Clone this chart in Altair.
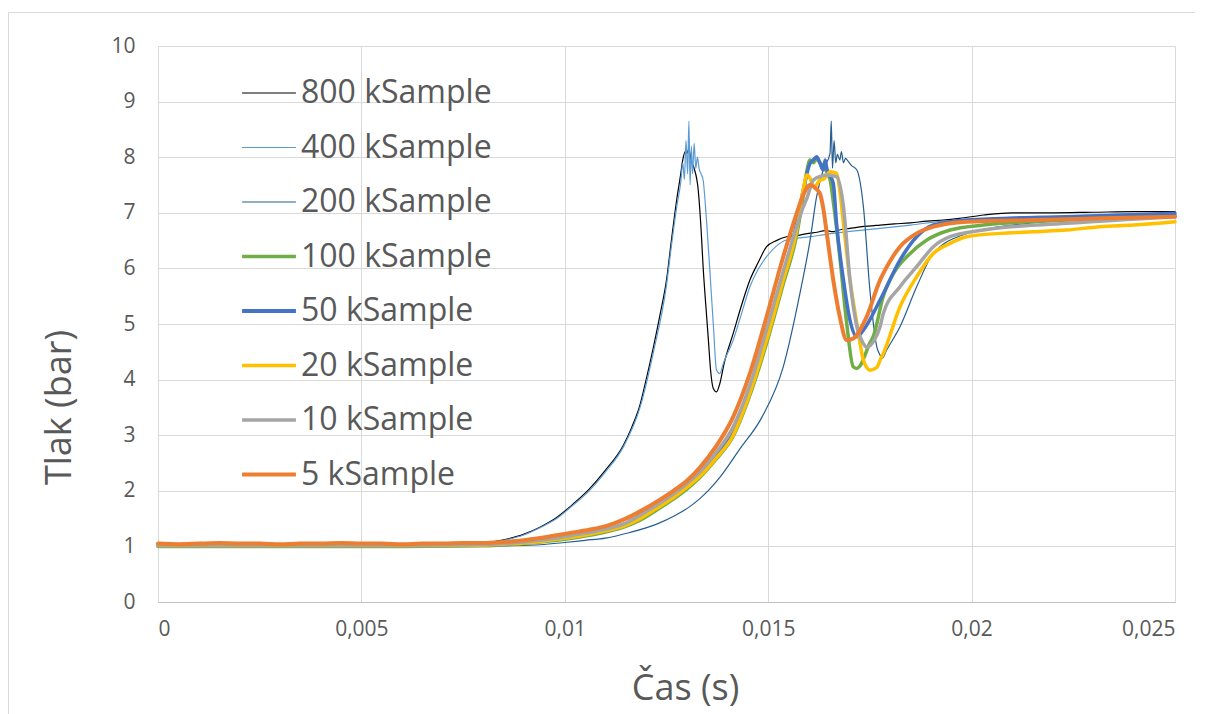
import altair as alt
import pandas as pd

# ---- series names, colours, widths ----
series = ["800 kSample", "400 kSample", "200 kSample", "100 kSample",
          "50 kSample", "20 kSample", "10 kSample", "5 kSample"]
colors = ["#000000", "#5B9BD5", "#255E91", "#70AD47",
          "#4472C4", "#FFC000", "#A5A5A5", "#ED7D31"]
widths = [1.2, 1.2, 1.2, 3.5, 3.5, 3.5, 3.5, 4.0]

# ---- data (time in s, pressure in bar) ----
t800 = [0, 0.001, 0.002, 0.003, 0.004, 0.005, 0.006, 0.007, 0.0075, 0.008, 0.0085, 0.009,
        0.0094, 0.0098, 0.0102, 0.0106, 0.011, 0.01144, 0.01165, 0.01185, 0.012, 0.01218,
        0.01235, 0.0125, 0.01262, 0.01275, 0.01285, 0.0129, 0.01296, 0.013, 0.01305, 0.0131,
        0.01318, 0.01328, 0.01335, 0.0134, 0.01347, 0.01353, 0.01358, 0.01365, 0.01373,
        0.0138, 0.01392, 0.01414, 0.01435, 0.01455, 0.01475, 0.01496, 0.0152, 0.01545,
        0.01578, 0.016, 0.0162, 0.0164, 0.0166, 0.0168, 0.017, 0.0173, 0.01775, 0.0181,
        0.0185, 0.0189, 0.0193, 0.0197, 0.0203, 0.021, 0.022, 0.023, 0.024, 0.025]
p800 = [1.0, 1.0, 1.01, 0.99, 1.0, 1.0, 1.0, 1.01, 1.03, 1.06, 1.12, 1.22,
        1.35, 1.52, 1.76, 2.03, 2.37, 2.82, 3.15, 3.55, 4.0, 4.59,
        5.2, 5.79, 6.5, 7.23, 7.7, 7.95, 8.1, 8.07, 8.15, 7.95,
        7.8, 7.41, 6.7, 6.03, 5.3, 4.71, 4.2, 3.84, 3.78,
        3.9, 4.3, 4.83, 5.35, 5.79, 6.1, 6.39, 6.5, 6.57,
        6.6, 6.63, 6.65, 6.68, 6.66, 6.7, 6.72, 6.75, 6.78, 6.8,
        6.82, 6.85, 6.87, 6.9, 6.96, 7.0, 7.0, 7.01, 7.02, 7.02]

t400 = [0, 0.002, 0.004, 0.006, 0.007, 0.0075, 0.008, 0.0085, 0.009, 0.0094, 0.0098, 0.0102,
        0.0106, 0.011, 0.01144, 0.01185, 0.01218, 0.0125, 0.01262, 0.01275, 0.01285, 0.0129,
        0.01294, 0.01298, 0.01302, 0.01305, 0.01308, 0.01311, 0.01314, 0.01318, 0.01322,
        0.01326, 0.0133, 0.01335, 0.0134, 0.01348, 0.01357, 0.01365, 0.01373, 0.01381,
        0.0139, 0.01414, 0.01435, 0.01455, 0.01475, 0.01496, 0.0152, 0.01545, 0.01603,
        0.0166, 0.0172, 0.01775, 0.0185, 0.0193, 0.0197, 0.021, 0.022, 0.023, 0.024, 0.025]
p400 = [1.0, 1.0, 1.0, 1.0, 1.01, 1.03, 1.05, 1.11, 1.21, 1.34, 1.5, 1.74,
        2.0, 2.34, 2.79, 3.5, 4.5, 5.7, 6.4, 7.1, 7.55, 7.9,
        7.6, 8.3, 7.7, 8.65, 7.5, 8.2, 7.7, 8.25, 7.8,
        8.0, 7.8, 7.7, 7.59, 6.9, 5.91, 5.0, 4.17, 4.11,
        4.3, 4.71, 5.2, 5.67, 5.98, 6.21, 6.4, 6.51, 6.57,
        6.63, 6.68, 6.72, 6.78, 6.85, 6.87, 6.92, 6.94, 6.96, 6.98, 6.99]

t200 = [0, 0.002, 0.004, 0.006, 0.008, 0.0085, 0.009, 0.0094, 0.01, 0.0105, 0.011, 0.0116,
        0.01226, 0.0127, 0.01308, 0.01332, 0.01355, 0.01382, 0.0143, 0.01485, 0.01537,
        0.01578, 0.01603, 0.01619, 0.01635, 0.01652, 0.01655, 0.01658, 0.01662, 0.01666,
        0.0167, 0.01676, 0.0168, 0.01685, 0.0169, 0.01697, 0.01705, 0.01718, 0.01734,
        0.0175, 0.01767, 0.01775, 0.0178, 0.01791, 0.01824, 0.01865, 0.01906, 0.01988,
        0.0207, 0.02234, 0.025]
p200 = [1.0, 0.99, 1.0, 1.0, 1.0, 1.01, 1.02, 1.03, 1.07, 1.11, 1.15, 1.25,
        1.4, 1.55, 1.72, 1.86, 2.02, 2.25, 2.75, 3.33, 4.23,
        5.55, 6.51, 7.29, 7.77, 8.07, 8.65, 7.8, 8.3, 7.9,
        8.05, 7.95, 8.1, 7.9, 7.98, 7.92, 7.85, 7.77, 7.11,
        5.61, 4.59, 4.44, 4.38, 4.53, 4.95, 5.67, 6.27, 6.63,
        6.75, 6.87, 6.99]

t100 = [0, 0.002, 0.004, 0.006, 0.008, 0.0085, 0.009, 0.0094, 0.0098, 0.0102, 0.0106, 0.011,
        0.0115, 0.01185, 0.01225, 0.01267, 0.013, 0.01332, 0.0137, 0.01414, 0.01455, 0.01496,
        0.01537, 0.0157, 0.01586, 0.01595, 0.01603, 0.01611, 0.01619, 0.01627, 0.01635,
        0.01652, 0.0166, 0.01676, 0.01693, 0.01709, 0.01718, 0.01726, 0.0175, 0.01758,
        0.01783, 0.01808, 0.01849, 0.0189, 0.01947, 0.02029, 0.02234, 0.025]
p100 = [1.0, 1.0, 1.0, 1.0, 1.01, 1.03, 1.05, 1.08, 1.11, 1.15, 1.2, 1.26,
        1.36, 1.47, 1.65, 1.85, 2.03, 2.24, 2.55, 2.98, 3.72, 4.65,
        5.72, 6.6, 7.3, 7.75, 7.95, 7.9, 7.97, 7.9, 7.83,
        7.6, 7.2, 6.21, 5.01, 4.23, 4.2, 4.25, 4.66, 4.77,
        5.5, 5.91, 6.27, 6.51, 6.69, 6.78, 6.87, 6.95]

t50 = [0, 0.002, 0.004, 0.006, 0.008, 0.0085, 0.009, 0.0094, 0.0098, 0.0102, 0.0106, 0.011,
       0.0115, 0.01185, 0.01225, 0.01267, 0.013, 0.01332, 0.0137, 0.01414, 0.01455, 0.01496,
       0.01537, 0.0157, 0.01586, 0.01603, 0.01611, 0.01619, 0.01627, 0.01635, 0.0164,
       0.01644, 0.0166, 0.01668, 0.01685, 0.01701, 0.01718, 0.01734, 0.01775, 0.01824,
       0.01865, 0.01906, 0.01988, 0.02234, 0.025]
p50 = [1.01, 1.01, 1.01, 1.01, 1.02, 1.04, 1.07, 1.1, 1.14, 1.19, 1.24, 1.3,
       1.41, 1.54, 1.72, 1.92, 2.11, 2.32, 2.64, 3.1, 3.85, 4.85,
       5.9, 6.8, 7.4, 7.89, 7.95, 8.01, 7.9, 7.77, 7.95,
       7.8, 7.53, 6.81, 5.79, 5.07, 4.77, 4.89, 5.43, 6.15,
       6.57, 6.78, 6.87, 6.93, 6.99]

t20 = [0, 0.002, 0.004, 0.006, 0.008, 0.0085, 0.009, 0.0094, 0.0098, 0.0102, 0.0106, 0.011,
       0.0115, 0.01185, 0.01225, 0.01267, 0.013, 0.01332, 0.0137, 0.01414, 0.01455, 0.01496,
       0.01537, 0.0157, 0.01586, 0.01595, 0.01603, 0.01611, 0.01619, 0.01627, 0.01635,
       0.01652, 0.01668, 0.01676, 0.01685, 0.01701, 0.01718, 0.01734, 0.01742, 0.0175,
       0.01767, 0.01775, 0.01783, 0.01824, 0.01865, 0.01906, 0.01947, 0.01988, 0.0207,
       0.02152, 0.02234, 0.02316, 0.02398, 0.025]
p20 = [1.01, 1.01, 1.01, 1.01, 1.02, 1.04, 1.06, 1.09, 1.13, 1.17, 1.22, 1.28,
       1.38, 1.5, 1.68, 1.88, 2.06, 2.26, 2.57, 3.0, 3.76, 4.71,
       5.79, 6.69, 7.41, 7.68, 7.62, 7.47, 7.5, 7.59, 7.6,
       7.74, 7.71, 7.4, 6.81, 5.79, 5.01, 4.35, 4.22, 4.17,
       4.22, 4.35, 4.47, 5.31, 5.85, 6.27, 6.45, 6.57, 6.63,
       6.66, 6.69, 6.75, 6.78, 6.84]

t10 = [0, 0.002, 0.004, 0.006, 0.008, 0.0085, 0.009, 0.0094, 0.0098, 0.0102, 0.0106, 0.011,
       0.0115, 0.01185, 0.01225, 0.01267, 0.013, 0.01332, 0.0137, 0.01414, 0.01455, 0.01496,
       0.01537, 0.0157, 0.01586, 0.01595, 0.01611, 0.0163, 0.01644, 0.01668, 0.01685,
       0.01701, 0.01718, 0.01734, 0.01742, 0.0176, 0.01775, 0.01783, 0.01824, 0.01865,
       0.01906, 0.01947, 0.02029, 0.02234, 0.025]
p10 = [1.02, 1.02, 1.02, 1.02, 1.03, 1.05, 1.08, 1.11, 1.15, 1.2, 1.25, 1.31,
       1.42, 1.56, 1.74, 1.94, 2.13, 2.34, 2.67, 3.15, 3.9, 4.9,
       5.95, 6.75, 7.1, 7.26, 7.59, 7.66, 7.68, 7.65, 7.11,
       5.79, 4.95, 4.65, 4.58, 4.7, 4.95, 5.19, 5.67, 6.03,
       6.39, 6.57, 6.69, 6.81, 6.93]

t5 = [0, 0.0005, 0.001, 0.0015, 0.002, 0.0025, 0.003, 0.0035, 0.004, 0.0045, 0.005, 0.0055,
      0.006, 0.0065, 0.007, 0.0075, 0.008, 0.0085, 0.009, 0.00939, 0.0098, 0.0102, 0.0106,
      0.01103, 0.0115, 0.01185, 0.01225, 0.01267, 0.013, 0.01332, 0.0137, 0.01414, 0.01455,
      0.01496, 0.01537, 0.0157, 0.01585, 0.01603, 0.01615, 0.01627, 0.01636, 0.01644,
      0.0166, 0.01676, 0.01693, 0.01709, 0.01742, 0.01775, 0.01783, 0.01824, 0.01865,
      0.01906, 0.01988, 0.02152, 0.02316, 0.025]
p5 = [1.05, 1.04, 1.05, 1.06, 1.05, 1.05, 1.04, 1.05, 1.05, 1.06, 1.05, 1.05,
      1.04, 1.05, 1.05, 1.06, 1.06, 1.08, 1.11, 1.15, 1.2, 1.25, 1.3,
      1.37, 1.5, 1.63, 1.8, 2.0, 2.18, 2.42, 2.78, 3.33, 4.11,
      5.13, 6.21, 6.99, 7.3, 7.5, 7.45, 7.35, 7.05, 6.63,
      5.79, 5.13, 4.71, 4.74, 5.13, 5.79, 5.91, 6.39, 6.63,
      6.75, 6.84, 6.87, 6.9, 6.93]

times = [t800, t400, t200, t100, t50, t20, t10, t5]
press = [p800, p400, p200, p100, p50, p20, p10, p5]

rows = []
for name, ts, ps in zip(series, times, press):
    for t, p in zip(ts, ps):
        rows.append({"series": name, "t": t, "p": p})
df = pd.DataFrame(rows)

x_ticks = [0, 0.005, 0.01, 0.015, 0.02, 0.025]
y_ticks = [0, 1, 2, 3, 4, 5, 6, 7, 8, 9, 10]

FONT = "Open Sans"
TXT = "#595959"

thick = [s for s, w in zip(series, widths) if w > 2]
legend_width_expr = ("indexof(['5 kSample','50 kSample'], datum.value) >= 0 ? 4 : "
                     "(indexof(" + str(thick) + ", datum.value) >= 0 ? 3.5 : 1.2)")

x_enc = alt.X("t:Q", scale=alt.Scale(domain=[0, 0.025], nice=False),
              axis=alt.Axis(values=x_ticks, title="Čas (s)",
                            labelExpr="replace(format(datum.value, '~g'), '.', ',')",
                            titleX=527, titleY=97, titleBaseline="alphabetic",
                            titleAlign="center", titleAnchor="start"))
y_enc = alt.Y("p:Q", scale=alt.Scale(domain=[0, 10], nice=False),
              axis=alt.Axis(values=y_ticks, title="Tlak (bar)", format="d",
                            titleX=-88, titleY=361, titleBaseline="alphabetic",
                            titleAlign="center", titleAnchor="start", domain=False))
color_enc = alt.Color("series:N", scale=alt.Scale(domain=series, range=colors),
                      sort=series,
                      legend=alt.Legend(title=None,
                                        symbolStrokeWidth={"expr": legend_width_expr}))

border = alt.Chart(alt.Data(values=[{"a": 1}])).mark_rect(
    fillOpacity=0, stroke="#D9D9D9", strokeWidth=1
).encode(x=alt.value(-149.5), y=alt.value(-33.5), x2=alt.value(1400), y2=alt.value(1000))

layers = [border]
for name, w in zip(series, widths):
    layers.append(
        alt.Chart(df).transform_filter(alt.datum.series == name)
        .mark_line(interpolate="monotone", strokeJoin="round", strokeCap="round",
                   strokeWidth=w)
        .encode(x=x_enc, y=y_enc, color=color_enc)
    )

chart = alt.layer(*layers).properties(
    width=1017, height=556,
    autosize=alt.AutoSizeParams(type="none"),
    padding={"left": 150, "top": 38, "right": 20, "bottom": 112},
).configure_view(stroke="transparent").configure_axis(
    grid=True, gridColor="#D9D9D9", gridWidth=1, ticks=False,
    domainColor="#BFBFBF", domainWidth=1,
    labelFont=FONT, labelFontSize=21, labelColor=TXT,
    titleFont=FONT, titleFontSize=36, titleColor=TXT, titleFontWeight="normal",
).configure_axisX(labelPadding=16).configure_axisY(labelPadding=23).configure_legend(
    orient="none", legendX=95, legendY=31, padding=0, rowPadding=22.5,
    labelFont=FONT, labelFontSize=32, labelColor=TXT, labelLimit=400, labelOffset=16,
    symbolType="stroke", symbolSize=2900,
)

chart.save("out.html", embed_options={"renderer": "svg", "actions": False})
